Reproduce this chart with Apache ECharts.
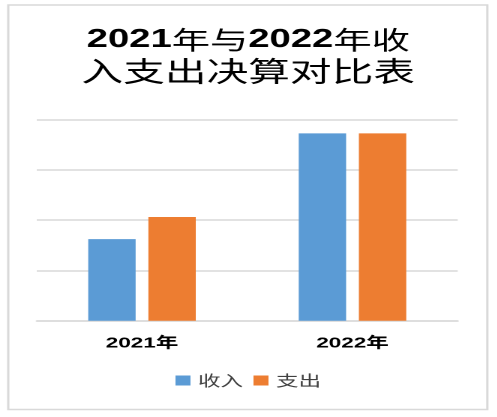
<!DOCTYPE html>
<html>
<head>
<meta charset="utf-8">
<script src="https://cdn.jsdelivr.net/npm/echarts@6/dist/echarts.min.js"></script>
<style>
  html, body { margin: 0; padding: 0; background: #fff; overflow: hidden; }
  #c { width: 331.33px; height: 417px; transform: scaleX(1.5); transform-origin: 0 0; }
</style>
</head>
<body>
<div id="c"></div>
<script>
const categories = ['2021年', '2022年'];
const seriesNames = ['收入', '支出'];
const incomeValues = [81, 186];
const expenseValues = [103, 186];
const titleLine1 = ['2021', '年与', '2022', '年收'];
const titleLine2 = '入支出决算对比表';

const chart = echarts.init(document.getElementById('c'), null, { renderer: 'canvas', devicePixelRatio: 2 });
const W = 331.33;

chart.setOption({
  animation: false,
  backgroundColor: '#ffffff',
  color: ['#5B9BD5', '#ED7D31'],
  graphic: [{
    type: 'rect',
    shape: { x: 5.5, y: 5, width: 319.4, height: 404.5 },
    style: { fill: 'none', stroke: '#d9d9d9', lineWidth: 1.5 },
    silent: true
  }],
  title: [{
    left: 'center',
    top: 25,
    padding: 0,
    text: '{b|' + titleLine1[0] + '}{c|' + titleLine1[1] + '}{b|' + titleLine1[2] + '}{c|' + titleLine1[3] + '}',
    textStyle: {
      rich: {
        b: { fontFamily: 'Liberation Sans', fontWeight: 'bold', fontSize: 25.5, color: '#000', lineHeight: 30 },
        c: { fontFamily: 'Noto Sans CJK SC', fontWeight: 'normal', fontSize: 25.5, color: '#000', lineHeight: 30 }
      }
    }
  }, {
    left: 'center',
    top: 56,
    padding: 0,
    text: titleLine2,
    textStyle: { fontFamily: 'Noto Sans CJK SC', fontWeight: 'normal', fontSize: 27.8, color: '#000', lineHeight: 30 }
  }],
  legend: {
    data: seriesNames,
    left: 'center',
    top: 373,
    padding: 0,
    itemWidth: 10,
    itemHeight: 10,
    itemGap: 7,
    icon: 'rect',
    textStyle: { fontFamily: 'Noto Sans CJK SC', fontSize: 15, color: '#404040' }
  },
  grid: { left: 24.5, right: W - 305.5, top: 119.3, bottom: 96.3, containLabel: false },
  xAxis: {
    type: 'category',
    data: categories,
    axisLine: { show: true, lineStyle: { color: '#d9d9d9', width: 1.5 } },
    axisTick: { show: false },
    axisLabel: { fontFamily: 'Liberation Sans, Noto Sans CJK SC', fontWeight: 'bold', fontSize: 15, color: '#000', margin: 15 }
  },
  yAxis: {
    type: 'value',
    min: 0,
    max: 200,
    interval: 50,
    axisLabel: { show: false },
    axisLine: { show: false },
    axisTick: { show: false },
    splitLine: { show: true, lineStyle: { color: '#d9d9d9', width: 1.5 } }
  },
  series: [{
    name: seriesNames[0],
    type: 'bar',
    data: incomeValues,
    barWidth: '22.5%',
    barGap: '27%'
  }, {
    name: seriesNames[1],
    type: 'bar',
    data: expenseValues,
    barWidth: '22.5%',
    barGap: '27%'
  }]
});
</script>
</body>
</html>
